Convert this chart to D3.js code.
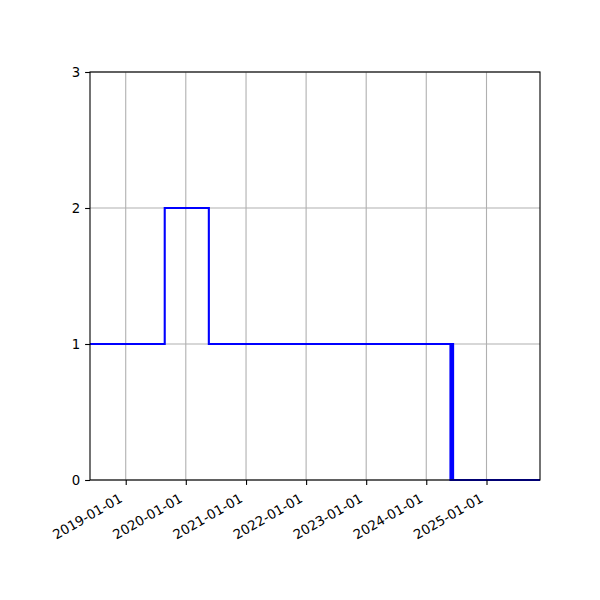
<!DOCTYPE html>
<html>
<head>
<meta charset="utf-8">
<script src="https://cdn.jsdelivr.net/npm/d3@7"></script>
<style>
  body { margin: 0; background: #fff; }
  text { font-family: "DejaVu Sans", sans-serif; font-size: 13.3px; fill: #000; }
</style>
</head>
<body>
<svg id="chart"></svg>
<script>
// step series: value holds from each date until the next one
const stepDates = ["2018-05-29", "2019-08-26", "2020-05-20", "2024-05-27", "2024-06-04", "2024-06-12", "2025-11-22"];
const stepValues = [1, 2, 1, 0, 1, 0, 0];

const xLimits = ["2018-05-29", "2025-11-22"];
const yLimits = [0, 3];
const xTickLabels = ["2019-01-01", "2020-01-01", "2021-01-01", "2022-01-01", "2023-01-01", "2024-01-01", "2025-01-01"];
const yTickValues = [0, 1, 2, 3];

const parse = d3.utcParse("%Y-%m-%d");

const config = {
  width: 600,
  height: 600,
  margin: { top: 72, right: 60, bottom: 120, left: 90 }
};

const innerW = config.width - config.margin.left - config.margin.right;
const innerH = config.height - config.margin.top - config.margin.bottom;

const svg = d3.select('#chart')
  .attr('width', config.width)
  .attr('height', config.height);

const g = svg.append('g')
  .attr('transform', `translate(${config.margin.left},${config.margin.top})`);

const xScale = d3.scaleUtc()
  .domain(xLimits.map(parse))
  .range([0, innerW]);

const yScale = d3.scaleLinear()
  .domain(yLimits)
  .range([innerH, 0]);

const xTicks = xTickLabels.map(parse);

// Gridlines
g.append('g')
  .selectAll('line')
  .data(xTicks)
  .join('line')
  .attr('x1', d => xScale(d)).attr('x2', d => xScale(d))
  .attr('y1', 0).attr('y2', innerH)
  .attr('stroke', '#b0b0b0').attr('stroke-width', 1.1);

g.append('g')
  .selectAll('line')
  .data(yTickValues)
  .join('line')
  .attr('x1', 0).attr('x2', innerW)
  .attr('y1', d => yScale(d)).attr('y2', d => yScale(d))
  .attr('stroke', '#b0b0b0').attr('stroke-width', 1.1);

// Step line
const data = stepDates.map((d, i) => ({ date: parse(d), value: stepValues[i] }));
const line = d3.line()
  .x(d => xScale(d.date))
  .y(d => yScale(d.value))
  .curve(d3.curveStepAfter);

g.append('path')
  .datum(data)
  .attr('fill', 'none')
  .attr('stroke', '#0000ff')
  .attr('stroke-width', 2.1)
  .attr('d', line);

// Axes
const xAxis = d3.axisBottom(xScale)
  .tickValues(xTicks)
  .tickSize(4.9)
  .tickPadding(4.9)
  .tickFormat(d3.utcFormat("%Y-%m-%d"));

const yAxis = d3.axisLeft(yScale)
  .tickValues(yTickValues)
  .tickSize(4.9)
  .tickPadding(4.9)
  .tickFormat(d3.format('d'));

const xAxisG = g.append('g')
  .attr('transform', `translate(0,${innerH})`)
  .call(xAxis)
  .call(a => a.select('.domain').remove());

xAxisG.selectAll('.tick line').attr('stroke-width', 1.1);
xAxisG.selectAll('.tick text')
  .attr('font-size', null)
  .attr('y', null).attr('dy', null)
  .style('text-anchor', 'end')
  .attr('transform', 'translate(-3,21) rotate(-30)');

const yAxisG = g.append('g')
  .call(yAxis)
  .call(a => a.select('.domain').remove());

yAxisG.selectAll('.tick line').attr('stroke-width', 1.1);
yAxisG.selectAll('.tick text').attr('font-size', null).attr('dy', '0.35em');

xAxisG.attr('font-family', null).attr('font-size', null);
yAxisG.attr('font-family', null).attr('font-size', null);

// Frame
g.append('rect')
  .attr('x', 0).attr('y', 0)
  .attr('width', innerW).attr('height', innerH)
  .attr('fill', 'none')
  .attr('stroke', '#000')
  .attr('stroke-width', 1.1);
</script>
</body>
</html>
